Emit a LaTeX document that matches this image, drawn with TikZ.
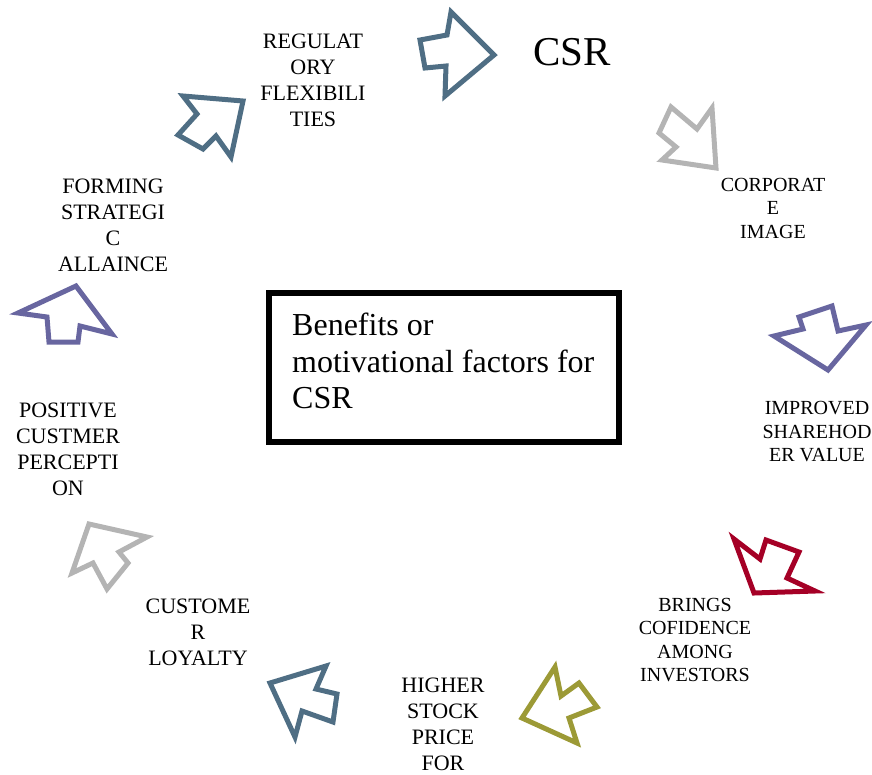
\documentclass[tikz,border=0pt]{standalone}
\usepackage{fontspec}
\setmainfont{Liberation Serif}
\definecolor{steel}{HTML}{4F6E84}
\definecolor{lgrey}{HTML}{B4B4B4}
\definecolor{lilac}{HTML}{6866A0}
\definecolor{crimson}{HTML}{A50026}
\definecolor{olive}{HTML}{9C9A36}

\begin{document}
\begin{tikzpicture}[x=1pt,y=-1pt,
  blk/.style={line width=5pt, line join=miter},
  lbl/.style={align=center, font=\fontsize{22}{26}\selectfont},
  lbls/.style={align=center, font=\fontsize{20}{23.5}\selectfont}]
\useasboundingbox (0,0) rectangle (872,774);

% centre box
\node[draw, line width=6pt, minimum width=350, minimum height=149] (box) at (444,367.5) {};
\node[align=left, anchor=west, inner sep=0pt, font=\fontsize{32}{36.5}\selectfont]
  (boxtext) at (292,361) {Benefits or\\motivational factors for\\CSR};

% block arrows, clockwise from the top
\draw[blk, steel] (494,55)--(451,12)--(447,35)--(420,40)--(425,68)--(446,66)--(445,96)--cycle;
\draw[blk, lgrey] (716,168)--(662,160)--(676,147)--(659,133)--(671,107)--(697,129)--(712,108)--cycle;
\draw[blk, lilac] (828,370)--(774,336)--(803,329)--(799,317)--(832,306)--(838,331)--(866,325)--cycle;
\draw[blk, crimson] (754,593)--(734,539)--(760,559)--(766,540)--(799,552)--(787,578)--(815,591)--cycle;
\draw[blk, olive] (522,718)--(555,667)--(561,696)--(579,683)--(597,707)--(569,718)--(577,743)--cycle;
\draw[blk, steel] (270,683)--(326,666)--(316,689)--(337,694)--(333,722)--(302,711)--(295,737)--cycle;
\draw[blk, lgrey] (89,524)--(147,537)--(119,552)--(128,563)--(107,589)--(93,563)--(72,573)--cycle;
\draw[blk, lilac] (76,286)--(112,334)--(80,326)--(78,342)--(49,342)--(47,317)--(18,313)--cycle;
\draw[blk, steel] (243,101)--(231,157)--(216,136)--(203,149)--(178,135)--(197,114)--(183,96)--cycle;

% labels
\node[font=\fontsize{41}{48}\selectfont] (csr) at (572,52) {CSR};
\node[lbls] (corp) at (773,208) {CORPORAT\\E\\IMAGE};
\node[lbls] (shval) at (817,432) {IMPROVED\\SHAREHOD\\ER VALUE};
\node[lbls] (conf) at (695,640) {BRINGS\\COFIDENCE\\AMONG\\INVESTORS};
\node[lbl] (stock) at (443,724) {HIGHER\\STOCK\\PRICE\\FOR};
\node[lbl] (loyal) at (198,632) {CUSTOME\\R\\LOYALTY};
\node[lbl] (percep) at (68,449) {POSITIVE\\CUSTMER\\PERCEPTI\\ON};
\node[lbl] (allia) at (113,225) {FORMING\\STRATEGI\\C\\ALLAINCE};
\node[lbl] (regul) at (313,80) {REGULAT\\ORY\\FLEXIBILI\\TIES};
\end{tikzpicture}
\end{document}
